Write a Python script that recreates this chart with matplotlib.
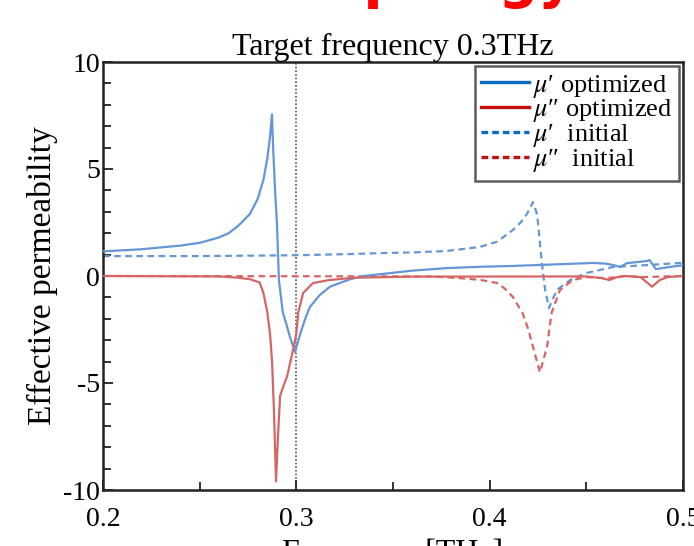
import numpy as np
import matplotlib
matplotlib.use('Agg')
import matplotlib.pyplot as plt
from matplotlib.lines import Line2D
from matplotlib.ticker import MultipleLocator

# Optimized structure: real part of permeability (solid blue)
f_opt_re = [0.200, 0.220, 0.240, 0.250, 0.260, 0.265, 0.270, 0.276, 0.280, 0.283,
            0.285, 0.2865, 0.2874, 0.2880, 0.2890, 0.2900, 0.2910, 0.2930, 0.2950, 0.2967,
            0.2993, 0.3020, 0.3050, 0.3070, 0.3120, 0.3174, 0.3278, 0.3350, 0.3430, 0.3600,
            0.3780, 0.3950, 0.4120, 0.4300, 0.4535, 0.4600, 0.4640, 0.4675, 0.4710, 0.4814,
            0.4826, 0.4860, 0.4900, 0.4970, 0.5000]
mu_opt_re = [1.15, 1.25, 1.42, 1.55, 1.80, 2.00, 2.35, 2.90, 3.60, 4.50,
             5.50, 6.60, 7.55, 6.00, 4.00, 2.40, -0.20, -1.70, -2.30, -2.85,
             -3.55, -2.70, -1.90, -1.45, -0.90, -0.50, -0.15, 0.00, 0.08, 0.25,
             0.37, 0.43, 0.47, 0.53, 0.61, 0.58, 0.51, 0.42, 0.60, 0.70,
             0.75, 0.32, 0.38, 0.47, 0.50]

# Optimized structure: imaginary part (solid red)
f_opt_im = [0.200, 0.260, 0.270, 0.276, 0.281, 0.283, 0.285, 0.2865, 0.2875, 0.2885,
            0.2895, 0.2905, 0.2916, 0.2935, 0.2952, 0.2983, 0.3000, 0.3010, 0.3035, 0.3086,
            0.3170, 0.3300, 0.3600, 0.4500, 0.4580, 0.4620, 0.4660, 0.4700, 0.4780, 0.4840,
            0.4880, 0.4920, 0.5000]
mu_opt_im = [0.00, -0.02, -0.08, -0.15, -0.30, -0.80, -1.70, -2.80, -4.10, -6.50,
             -9.60, -7.50, -5.60, -5.10, -4.70, -3.46, -2.70, -1.70, -0.80, -0.33,
             -0.19, -0.08, -0.03, -0.02, -0.10, -0.19, -0.05, 0.00, -0.05, -0.50,
             -0.19, -0.05, 0.00]

# Initial structure: real part (dashed blue)
f_ini_re = [0.200, 0.250, 0.300, 0.330, 0.3433, 0.360, 0.378, 0.395, 0.4038, 0.412,
            0.416, 0.4193, 0.4224, 0.4245, 0.4258, 0.4270, 0.4287, 0.4307, 0.4325, 0.4348,
            0.4417, 0.4500, 0.4638, 0.4814, 0.4970, 0.5000]
mu_ini_re = [0.93, 0.93, 0.97, 1.03, 1.07, 1.10, 1.17, 1.36, 1.60, 2.15,
             2.50, 2.90, 3.45, 2.90, 1.75, 0.60, -0.65, -1.50, -1.10, -0.65,
             -0.19, 0.14, 0.42, 0.51, 0.60, 0.62]

# Initial structure: imaginary part (dashed red)
f_ini_im = [0.200, 0.370, 0.3847, 0.395, 0.404, 0.408, 0.412, 0.417, 0.420, 0.4224,
            0.426, 0.4297, 0.432, 0.4364, 0.443, 0.450, 0.460, 0.466, 0.470, 0.480,
            0.490, 0.500]
mu_ini_im = [0.00, -0.02, -0.10, -0.18, -0.33, -0.60, -0.98, -1.73, -2.50, -3.30,
             -4.50, -3.30, -1.73, -0.65, -0.19, -0.05, -0.10, -0.05, 0.00, -0.05,
             -0.02, 0.00]

target_f = 0.3
x_ticks = [0.2, 0.3, 0.4, 0.5]
x_ticklabels = ['0.2', '0.3', '0.4', '0.5']

plt.rcParams['font.family'] = ['Liberation Serif', 'DejaVu Serif']
plt.rcParams['mathtext.fontset'] = 'stix'
plt.rcParams['axes.unicode_minus'] = False

blue = '#6596d6'
red = '#d66666'

fig = plt.figure(figsize=(6.94, 5.46), dpi=100)
ax = fig.add_axes([103/694, 1 - 490/546, 580/694, 428/546])

ax.plot(f_opt_re, mu_opt_re, color=blue, lw=1.6, zorder=3)
ax.plot(f_opt_im, mu_opt_im, color=red, lw=1.6, zorder=3)
ax.plot(f_ini_re, mu_ini_re, color=blue, lw=1.6, ls=(0, (3, 2)), zorder=2)
ax.plot(f_ini_im, mu_ini_im, color=red, lw=1.6, ls=(0, (3, 2)), zorder=2)
ax.axvline(target_f, color='#555555', lw=1.2, ls=(0, (1, 1.2)), zorder=1)

ax.set_xlim(0.2, 0.5)
ax.set_ylim(-10, 10)
ax.xaxis.set_minor_locator(MultipleLocator(0.05))
ax.yaxis.set_major_locator(MultipleLocator(5))
ax.yaxis.set_minor_locator(MultipleLocator(1))
ax.tick_params(which='both', direction='in', top=False, right=False,
               width=1.3, color='#222222', labelsize=20)
ax.tick_params(axis='y', pad=2)
ax.tick_params(axis='x', pad=12)
ax.tick_params(which='major', length=7)
ax.tick_params(which='minor', length=6)
ax.set_xticks(x_ticks)
ax.set_xticklabels(x_ticklabels)
for s in ax.spines.values():
    s.set_linewidth(1.8)
    s.set_color('#222222')

ax.set_title('Target frequency 0.3THz', fontsize=23, pad=4)
ax.set_ylabel('Effective permeability', fontsize=24, labelpad=4)
ax.set_xlabel('Frequency [THz]', fontsize=23, labelpad=5)

# legend with darker handles as in the original
handles = [Line2D([], [], color='#0b6cc0', lw=2.4),
           Line2D([], [], color='#c41010', lw=2.4),
           Line2D([], [], color='#0b6cc0', lw=2.4, ls=(0, (2, 1.2))),
           Line2D([], [], color='#c41010', lw=2.4, ls=(0, (2, 1.2)))]
labels = ['$\\mu$\u2032 optimized', '$\\mu$\u2033 optimized',
          '$\\mu$\u2032  initial', '$\\mu$\u2033  initial']
leg = ax.legend(handles, labels, loc='upper right', fontsize=19,
                frameon=True, fancybox=False, edgecolor='#333333',
                handlelength=1.8, handletextpad=0.15, labelspacing=-0.08,
                borderpad=0.25, borderaxespad=0.15)
leg.get_frame().set_linewidth(1.8)

# red heading, cut by the top edge of the picture
fig.text(296/694, 1.005, 'Topology', color='#ff0000', fontsize=40,
         fontweight='bold', family='DejaVu Sans', va='baseline', ha='left')

fig.savefig('out.png', dpi=100)
